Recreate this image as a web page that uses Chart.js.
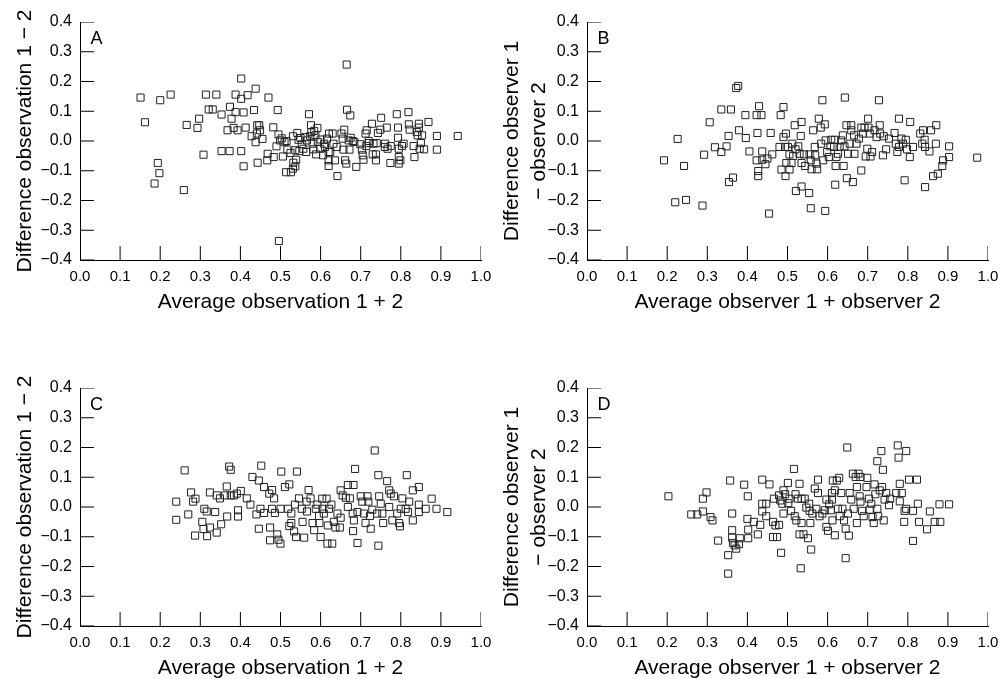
<!DOCTYPE html>
<html>
<head>
<meta charset="utf-8">
<script src="https://cdn.jsdelivr.net/npm/chart.js@4.4.0/dist/chart.umd.min.js"></script>
<style>
  html, body { margin: 0; padding: 0; background: #fff; overflow: hidden; }
  body { width: 1008px; height: 679px; position: relative; }
  .panel { position: absolute; }
  .letter {
    position: absolute;
    font-family: "Liberation Sans", Arial, sans-serif;
    font-size: 18px;
    line-height: 18px;
    color: #000;
  }
</style>
</head>
<body>
<div class="panel" id="wrapA" style="left:0;top:0;width:499px;height:340px"><canvas id="chartA"></canvas></div>
<div class="panel" id="wrapB" style="left:497px;top:0;width:511px;height:340px"><canvas id="chartB"></canvas></div>
<div class="panel" id="wrapC" style="left:0;top:340px;width:499px;height:339px"><canvas id="chartC"></canvas></div>
<div class="panel" id="wrapD" style="left:497px;top:340px;width:511px;height:339px"><canvas id="chartD"></canvas></div>
<div class="letter" style="left:90.5px;top:29px">A</div>
<div class="letter" style="left:597.5px;top:29px">B</div>
<div class="letter" style="left:90px;top:395px">C</div>
<div class="letter" style="left:597.5px;top:395px">D</div>
<script>
// [average, difference]
const pointsA = [
  [0.151,0.146],[0.162,0.063],[0.200,0.137],[0.226,0.156],[0.194,-0.074],[0.198,-0.108],[0.186,-0.143],[0.259,-0.165],
  [0.266,0.054],[0.293,0.044],[0.297,0.075],[0.308,-0.046],[0.314,0.156],[0.321,0.106],[0.331,0.106],[0.340,0.156],
  [0.353,0.089],[0.353,-0.034],[0.373,-0.034],[0.374,0.115],[0.378,0.075],[0.383,0.044],[0.388,0.097],[0.388,0.156],
  [0.368,0.036],[0.393,0.036],[0.402,0.210],[0.402,0.142],[0.418,0.154],[0.408,0.096],[0.402,-0.034],[0.408,-0.085],
  [0.413,0.045],[0.434,0.104],[0.438,0.176],[0.428,0.016],[0.438,-0.004],[0.442,0.053],[0.447,0.053],[0.441,0.025],
  [0.449,0.036],[0.443,-0.073],[0.455,0.007],[0.470,0.146],[0.468,-0.043],[0.467,-0.065],[0.482,0.046],[0.483,-0.054],
  [0.493,0.104],[0.495,0.022],[0.490,-0.018],[0.499,0.002],[0.503,0.009],[0.506,-0.052],[0.496,-0.336],[0.510,-0.004],
  [0.514,-0.105],[0.517,-0.029],[0.526,-0.105],[0.531,-0.093],[0.532,-0.073],[0.537,-0.085],[0.539,-0.063],[0.531,0.016],
  [0.537,-0.031],[0.542,0.027],[0.545,0.004],[0.547,-0.034],[0.553,-0.011],[0.557,-0.026],[0.562,0.013],[0.566,0.002],
  [0.564,-0.037],[0.571,0.090],[0.576,0.053],[0.577,0.030],[0.574,0.016],[0.580,-0.009],[0.584,0.034],[0.587,0.019],
  [0.582,-0.028],[0.589,-0.045],[0.592,0.044],[0.593,-0.003],[0.599,-0.026],[0.606,-0.048],[0.609,-0.009],[0.611,-0.020],
  [0.616,0.008],[0.620,-0.037],[0.620,-0.065],[0.620,-0.084],[0.621,0.025],[0.624,-0.037],[0.630,0.025],[0.632,-0.009],
  [0.636,-0.065],[0.642,-0.118],[0.652,0.025],[0.655,0.008],[0.659,0.038],[0.657,-0.029],[0.661,-0.065],[0.664,-0.076],
  [0.665,0.257],[0.666,0.105],[0.674,0.086],[0.670,0.002],[0.672,-0.029],[0.675,0.011],[0.684,-0.003],[0.689,-0.087],
  [0.699,-0.011],[0.703,-0.029],[0.705,-0.048],[0.707,-0.063],[0.712,0.025],[0.715,0.036],[0.714,-0.017],[0.720,-0.007],
  [0.728,0.058],[0.730,-0.045],[0.732,-0.009],[0.738,-0.065],[0.738,-0.045],[0.740,-0.007],[0.743,0.027],[0.749,0.038],
  [0.751,0.078],[0.761,-0.009],[0.765,0.045],[0.767,-0.026],[0.774,-0.074],[0.775,-0.017],[0.790,0.090],[0.793,0.045],
  [0.793,0.011],[0.795,-0.026],[0.795,-0.054],[0.795,-0.076],[0.799,-0.065],[0.803,-0.017],[0.807,-0.009],[0.819,0.097],
  [0.820,0.056],[0.822,0.038],[0.834,-0.054],[0.832,-0.017],[0.840,0.030],[0.842,0.019],[0.845,0.058],[0.845,0.045],
  [0.847,-0.026],[0.850,-0.007],[0.853,0.019],[0.858,-0.028],[0.869,0.064],[0.890,0.017],[0.890,-0.029],[0.942,0.017],
  [0.515,0.000],[0.525,-0.040],[0.550,0.010],[0.600,0.005],[0.640,-0.020],[0.680,0.000],[0.720,0.000],[0.760,-0.020]
];

const pointsB = [
  [0.192,-0.065],[0.226,0.007],[0.220,-0.206],[0.242,-0.084],[0.247,-0.198],[0.288,-0.217],[0.292,-0.046],[0.306,0.063],
  [0.319,-0.021],[0.335,0.106],[0.335,-0.037],[0.348,-0.018],[0.353,0.017],[0.354,-0.138],[0.364,-0.123],[0.359,0.106],
  [0.372,0.178],[0.377,0.185],[0.379,0.036],[0.395,0.087],[0.396,0.010],[0.405,-0.035],[0.423,0.087],[0.429,0.117],
  [0.435,0.087],[0.425,0.027],[0.423,-0.065],[0.427,-0.101],[0.427,-0.118],[0.437,-0.035],[0.437,-0.063],[0.445,-0.078],
  [0.450,-0.059],[0.454,-0.244],[0.458,0.027],[0.462,-0.045],[0.483,0.087],[0.490,0.114],[0.490,0.013],[0.496,0.025],
  [0.485,-0.096],[0.480,-0.020],[0.494,-0.020],[0.497,-0.074],[0.495,-0.118],[0.505,-0.096],[0.501,-0.020],[0.505,-0.045],
  [0.512,-0.009],[0.514,-0.050],[0.510,-0.074],[0.518,0.053],[0.520,-0.028],[0.521,-0.168],[0.527,-0.018],[0.530,-0.043],
  [0.533,0.017],[0.535,0.064],[0.535,-0.153],[0.535,-0.074],[0.541,-0.045],[0.544,-0.084],[0.554,-0.175],[0.555,-0.045],
  [0.558,-0.065],[0.558,-0.226],[0.560,-0.095],[0.564,0.036],[0.568,-0.020],[0.569,-0.048],[0.572,-0.076],[0.574,-0.095],
  [0.578,0.075],[0.583,0.045],[0.587,0.137],[0.584,-0.009],[0.589,-0.065],[0.593,0.056],[0.594,-0.235],[0.595,0.002],
  [0.599,-0.037],[0.603,-0.054],[0.607,-0.018],[0.609,0.004],[0.616,-0.020],[0.618,0.004],[0.620,-0.084],[0.622,-0.054],
  [0.619,-0.147],[0.626,-0.043],[0.630,-0.020],[0.634,0.002],[0.638,0.019],[0.642,-0.018],[0.640,-0.084],[0.643,0.146],
  [0.647,0.053],[0.648,-0.125],[0.651,-0.043],[0.655,-0.009],[0.659,0.053],[0.659,0.036],[0.663,-0.138],[0.666,0.019],
  [0.667,-0.043],[0.672,-0.009],[0.678,0.008],[0.684,0.045],[0.684,-0.099],[0.688,0.025],[0.692,0.045],[0.695,-0.052],
  [0.699,-0.026],[0.701,0.075],[0.702,0.045],[0.705,0.025],[0.707,-0.052],[0.711,-0.037],[0.717,0.036],[0.722,0.013],
  [0.728,0.137],[0.730,0.053],[0.731,0.025],[0.738,-0.048],[0.740,0.016],[0.746,-0.028],[0.753,0.008],[0.767,0.027],
  [0.770,-0.009],[0.774,-0.037],[0.778,0.075],[0.778,-0.020],[0.784,0.008],[0.788,-0.009],[0.792,-0.132],[0.795,0.004],
  [0.798,-0.028],[0.805,-0.054],[0.806,0.064],[0.813,-0.020],[0.831,0.025],[0.838,0.036],[0.836,-0.009],[0.842,0.004],
  [0.843,-0.020],[0.843,-0.155],[0.854,-0.035],[0.858,0.036],[0.863,-0.118],[0.870,-0.009],[0.871,0.053],[0.875,-0.110],
  [0.886,-0.084],[0.888,-0.065],[0.903,-0.018],[0.903,-0.054],[0.973,-0.056]
];

const pointsC = [
  [0.240,0.018],[0.240,-0.043],[0.261,0.123],[0.270,-0.025],[0.277,0.049],[0.282,0.018],[0.288,0.028],[0.287,-0.096],
  [0.310,-0.006],[0.305,-0.050],[0.308,-0.074],[0.316,-0.015],[0.317,-0.098],[0.324,0.049],[0.324,-0.069],[0.337,-0.017],
  [0.341,0.039],[0.341,-0.086],[0.349,0.029],[0.352,-0.058],[0.366,0.069],[0.367,-0.032],[0.362,0.039],[0.372,0.136],
  [0.376,0.125],[0.376,0.039],[0.384,0.039],[0.391,0.045],[0.394,-0.011],[0.394,-0.032],[0.401,0.054],[0.416,0.029],
  [0.425,0.008],[0.430,0.101],[0.440,-0.025],[0.446,0.089],[0.446,-0.073],[0.452,0.139],[0.450,-0.006],[0.459,0.067],
  [0.459,-0.020],[0.472,0.045],[0.474,-0.069],[0.474,-0.112],[0.479,0.057],[0.479,-0.006],[0.484,0.029],[0.486,-0.020],
  [0.492,-0.092],[0.495,-0.110],[0.502,0.119],[0.500,-0.123],[0.500,-0.006],[0.511,0.067],[0.522,0.076],[0.519,-0.006],
  [0.522,-0.064],[0.527,-0.022],[0.527,-0.054],[0.534,-0.082],[0.536,0.008],[0.541,0.119],[0.539,-0.101],[0.546,0.029],
  [0.553,-0.006],[0.555,-0.050],[0.559,-0.103],[0.565,0.018],[0.566,-0.015],[0.570,0.057],[0.575,0.029],[0.580,-0.054],
  [0.584,-0.078],[0.588,-0.006],[0.592,0.008],[0.596,-0.030],[0.597,-0.054],[0.600,-0.101],[0.604,0.028],[0.605,-0.006],
  [0.608,-0.022],[0.615,0.028],[0.617,-0.123],[0.618,-0.062],[0.621,-0.006],[0.627,0.008],[0.629,-0.123],[0.633,-0.050],
  [0.637,-0.069],[0.642,-0.022],[0.648,-0.069],[0.650,0.056],[0.650,-0.036],[0.655,0.039],[0.663,0.031],[0.668,0.074],
  [0.668,0.000],[0.673,0.029],[0.680,-0.022],[0.682,0.074],[0.681,-0.081],[0.683,-0.045],[0.686,0.128],[0.692,-0.017],
  [0.692,-0.121],[0.700,0.036],[0.704,0.018],[0.708,-0.022],[0.712,-0.054],[0.717,0.036],[0.719,0.018],[0.723,-0.030],
  [0.725,-0.073],[0.729,-0.009],[0.735,0.190],[0.741,-0.022],[0.744,0.107],[0.746,0.036],[0.744,-0.130],[0.750,0.011],
  [0.754,-0.022],[0.756,-0.054],[0.766,0.087],[0.771,0.056],[0.771,0.000],[0.775,0.045],[0.779,-0.045],[0.783,0.036],
  [0.791,-0.022],[0.796,-0.054],[0.798,-0.065],[0.800,-0.006],[0.804,0.029],[0.812,-0.006],[0.815,0.107],[0.818,-0.017],
  [0.821,0.018],[0.830,-0.045],[0.830,0.056],[0.845,0.067],[0.845,0.008],[0.845,-0.017],[0.862,-0.006],[0.877,0.028],
  [0.889,-0.006],[0.916,-0.017]
];

const pointsD = [
  [0.203,0.036],[0.260,-0.025],[0.275,-0.025],[0.289,-0.015],[0.289,0.028],[0.298,0.049],[0.308,-0.034],[0.313,-0.045],
  [0.327,-0.113],[0.352,-0.224],[0.352,-0.162],[0.357,0.089],[0.362,-0.022],[0.362,-0.078],[0.362,-0.103],[0.364,-0.121],
  [0.368,-0.129],[0.372,-0.140],[0.379,-0.125],[0.381,-0.105],[0.392,0.075],[0.401,0.036],[0.400,-0.040],[0.402,-0.076],
  [0.402,-0.105],[0.416,-0.050],[0.426,-0.092],[0.432,-0.060],[0.437,0.092],[0.437,0.011],[0.437,-0.015],[0.447,0.011],
  [0.447,-0.031],[0.455,0.076],[0.464,-0.050],[0.464,-0.101],[0.466,0.028],[0.470,-0.062],[0.474,-0.101],[0.479,-0.060],
  [0.479,0.039],[0.482,0.022],[0.484,-0.154],[0.487,0.011],[0.490,-0.022],[0.490,0.056],[0.494,0.043],[0.501,0.081],
  [0.502,0.013],[0.505,0.028],[0.509,-0.013],[0.516,0.128],[0.518,-0.031],[0.520,0.043],[0.522,-0.045],[0.526,0.028],
  [0.530,-0.092],[0.530,0.078],[0.533,-0.206],[0.535,-0.054],[0.535,0.028],[0.540,-0.092],[0.543,0.028],[0.547,-0.002],
  [0.551,-0.105],[0.554,0.011],[0.555,-0.013],[0.557,-0.054],[0.559,-0.143],[0.562,-0.022],[0.568,0.062],[0.572,-0.006],
  [0.576,0.092],[0.576,0.047],[0.580,-0.031],[0.587,-0.022],[0.593,-0.011],[0.597,0.025],[0.597,-0.067],[0.601,-0.080],
  [0.604,0.009],[0.608,-0.011],[0.611,0.025],[0.611,0.047],[0.612,-0.045],[0.613,0.089],[0.618,-0.095],[0.618,0.056],
  [0.623,0.089],[0.626,-0.006],[0.629,0.098],[0.630,-0.031],[0.634,0.047],[0.637,-0.006],[0.641,-0.045],[0.645,-0.073],
  [0.645,-0.172],[0.649,0.200],[0.651,-0.022],[0.653,-0.096],[0.655,0.047],[0.659,0.025],[0.663,0.112],[0.665,-0.006],
  [0.670,0.101],[0.673,0.067],[0.673,-0.054],[0.677,0.112],[0.680,0.036],[0.682,0.018],[0.682,0.101],[0.686,-0.013],
  [0.690,-0.031],[0.697,0.067],[0.699,0.098],[0.703,0.028],[0.705,-0.009],[0.709,0.011],[0.712,-0.034],[0.715,-0.054],
  [0.717,0.076],[0.719,0.043],[0.724,-0.006],[0.724,0.154],[0.726,-0.031],[0.730,0.056],[0.734,0.188],[0.736,0.067],
  [0.738,0.125],[0.740,-0.045],[0.742,0.025],[0.746,0.047],[0.753,0.006],[0.756,0.028],[0.771,0.047],[0.775,0.207],
  [0.777,0.166],[0.780,0.078],[0.780,0.019],[0.785,0.047],[0.791,-0.050],[0.792,-0.013],[0.796,0.188],[0.796,-0.006],
  [0.803,0.092],[0.813,-0.013],[0.813,-0.114],[0.823,0.092],[0.825,0.011],[0.828,-0.050],[0.848,-0.075],[0.855,-0.015],
  [0.867,-0.050],[0.879,0.009],[0.881,-0.050],[0.903,0.009]
];

// axis tick values
const xTickValues = [0, 0.1, 0.2, 0.3, 0.4, 0.5, 0.6, 0.7, 0.8, 0.9, 1.0];
const yTickValues = [-0.4, -0.3, -0.2, -0.1, 0, 0.1, 0.2, 0.3, 0.4];

const xTitleObs = 'Average observation 1 + 2';
const yTitleObs = 'Difference observation 1 \u2212 2';
const xTitleRater = 'Average observer 1 + observer 2';
const yTitleRater = ['Difference observer 1', '\u2212 observer 2'];

const FONT = '"Liberation Sans", Arial, sans-serif';
const X_MIN = 0, X_MAX = 1, Y_MIN = -0.4, Y_MAX = 0.4;
// inward tick length, in axis units (about 14 px on a 401 x 238 px plot)
const TICK_SPAN_X = 0.035;
const TICK_SPAN_Y = 0.047;

function fmtTick(v) {
  const r = Math.round(v * 10) / 10;
  return (r < 0 ? '\u2212' : '') + Math.abs(r).toFixed(1);
}

// short line datasets that act as the inside tick marks
function tickDatasets() {
  const style = { showLine: true, borderColor: '#000', borderWidth: 1, pointRadius: 0, pointHoverRadius: 0, fill: false };
  const xt = xTickValues.map(v => Object.assign({ data: [{ x: v, y: Y_MIN }, { x: v, y: Y_MIN + TICK_SPAN_Y }] }, style));
  const yt = yTickValues.map(v => Object.assign({ data: [{ x: X_MIN, y: v }, { x: X_MIN + TICK_SPAN_X, y: v }] }, style));
  return xt.concat(yt);
}

function makeChart(id, points, cfg) {
  const ctx = document.getElementById(id).getContext('2d');
  return new Chart(ctx, {
    type: 'scatter',
    data: {
      datasets: [{
        data: points.map(p => ({ x: p[0], y: p[1] })),
        pointStyle: 'rect',
        pointRadius: 5,
        pointBorderWidth: 1,
        borderColor: '#222',
        backgroundColor: 'rgba(0,0,0,0)'
      }].concat(tickDatasets())
    },
    options: {
      responsive: true,
      maintainAspectRatio: false,
      animation: false,
      layout: { padding: { left: 0, right: cfg.padRight, top: cfg.padTop, bottom: 0 } },
      plugins: { legend: { display: false }, tooltip: { enabled: false } },
      scales: {
        x: {
          type: 'linear',
          min: X_MIN, max: X_MAX,
          afterFit: s => { s.height = cfg.xHeight; },
          border: { display: true, color: '#000', width: 1 },
          grid: { display: false, drawOnChartArea: false, drawTicks: false },
          ticks: { stepSize: 0.1, padding: 7.5, color: '#000', font: { family: FONT, size: 15 }, callback: fmtTick, maxRotation: 0, autoSkip: false },
          title: { display: true, text: cfg.xTitle, color: '#000', font: { family: FONT, size: 21, lineHeight: 1.2 }, padding: { top: 0, bottom: cfg.xTitlePad } }
        },
        y: {
          type: 'linear',
          min: Y_MIN, max: Y_MAX,
          afterFit: s => { s.width = cfg.yWidth; },
          border: { display: true, color: '#000', width: 1 },
          grid: { display: false, drawOnChartArea: false, drawTicks: false },
          ticks: { stepSize: 0.1, padding: 8, color: '#000', font: { family: FONT, size: 16 }, callback: fmtTick, autoSkip: false },
          title: { display: true, text: cfg.yTitle, color: '#000', font: { family: FONT, size: 21, lineHeight: cfg.yLine }, padding: { top: cfg.yTitlePad, bottom: 0 } }
        }
      }
    }
  });
}

makeChart('chartA', pointsA, { padRight: 18, padTop: 22, xHeight: 80, yWidth: 80, xTitle: xTitleObs, xTitlePad: 25.4, yTitle: yTitleObs, yLine: 1.2, yTitlePad: 12.4 });
makeChart('chartB', pointsB, { padRight: 20, padTop: 22, xHeight: 80, yWidth: 90, xTitle: xTitleRater, xTitlePad: 25.4, yTitle: yTitleRater, yLine: 1.286, yTitlePad: 1.5 });
makeChart('chartC', pointsC, { padRight: 18, padTop: 48, xHeight: 53, yWidth: 80, xTitle: xTitleObs, xTitlePad: -1.6, yTitle: yTitleObs, yLine: 1.2, yTitlePad: 12.4 });
makeChart('chartD', pointsD, { padRight: 20, padTop: 48, xHeight: 53, yWidth: 90, xTitle: xTitleRater, xTitlePad: -1.6, yTitle: yTitleRater, yLine: 1.286, yTitlePad: 1.5 });
</script>
</body>
</html>
